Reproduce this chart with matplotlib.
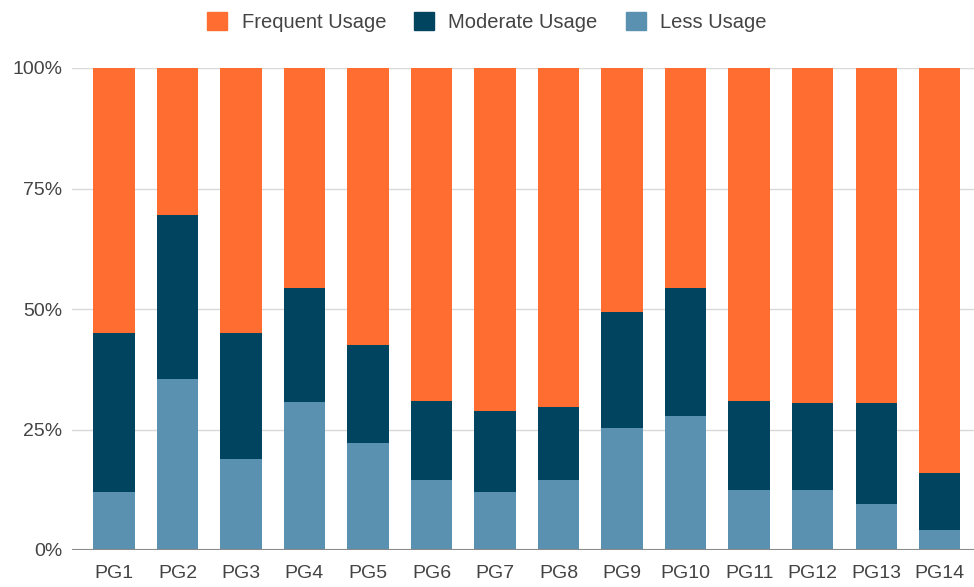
import matplotlib.pyplot as plt
import numpy as np
from matplotlib.patches import Patch
from matplotlib.ticker import PercentFormatter

plt.rcParams['font.family'] = ['Liberation Sans', 'DejaVu Sans']

groups = ["PG1", "PG2", "PG3", "PG4", "PG5", "PG6", "PG7",
          "PG8", "PG9", "PG10", "PG11", "PG12", "PG13", "PG14"]

# share of respondents per group (percent)
less_usage = [12.0, 35.5, 18.9, 30.7, 22.1, 14.6, 12.0,
              14.6, 25.4, 27.9, 12.5, 12.5, 9.6, 4.2]
moderate_usage = [33.0, 34.0, 26.1, 23.7, 20.5, 16.4, 16.9,
                  15.0, 23.9, 26.4, 18.5, 18.1, 21.0, 11.7]
frequent_usage = [100 - l - m for l, m in zip(less_usage, moderate_usage)]

c_freq = "#ff6d31"
c_mod = "#01445f"
c_less = "#5a91b0"

x = np.arange(len(groups))
less = np.array(less_usage) / 100
mod = np.array(moderate_usage) / 100
freq = np.array(frequent_usage) / 100

fig = plt.figure(figsize=(9.74, 5.87), dpi=100)
ax = fig.add_axes([72 / 974, 1 - 550 / 587, 1 - 72 / 974, (550 - 68) / 587])

w = 0.65
ax.bar(x, less, w, color=c_less, zorder=3)
ax.bar(x, mod, w, bottom=less, color=c_mod, zorder=3)
ax.bar(x, freq, w, bottom=less + mod, color=c_freq, zorder=3)

ax.set_xlim(-0.66, 13.54)
ax.set_ylim(0, 1)
ax.set_yticks([0, 0.25, 0.5, 0.75, 1.0])
ax.yaxis.set_major_formatter(PercentFormatter(1.0, decimals=0))
ax.set_xticks(x)
ax.set_xticklabels(groups)

ax.grid(axis='y', color='#d9d9d9', linewidth=1, zorder=0)
ax.axhline(0, color='#8a8a8a', linewidth=1.5, zorder=4)
for s in ax.spines.values():
    s.set_visible(False)
ax.tick_params(axis='both', length=0, labelsize=14, colors='#444444')
ax.tick_params(axis='y', pad=7)
ax.tick_params(axis='x', pad=11)

handles = [Patch(color=c_freq), Patch(color=c_mod), Patch(color=c_less)]
fig.legend(handles, ["Frequent Usage", "Moderate Usage", "Less Usage"],
           loc='center', bbox_to_anchor=(0.5, 1 - 22 / 587), ncol=3,
           frameon=False, fontsize=14.5, labelcolor='#444444',
           handlelength=1.0, handleheight=1.0, handletextpad=0.7,
           columnspacing=1.4)

fig.savefig("out.png", dpi=100)
